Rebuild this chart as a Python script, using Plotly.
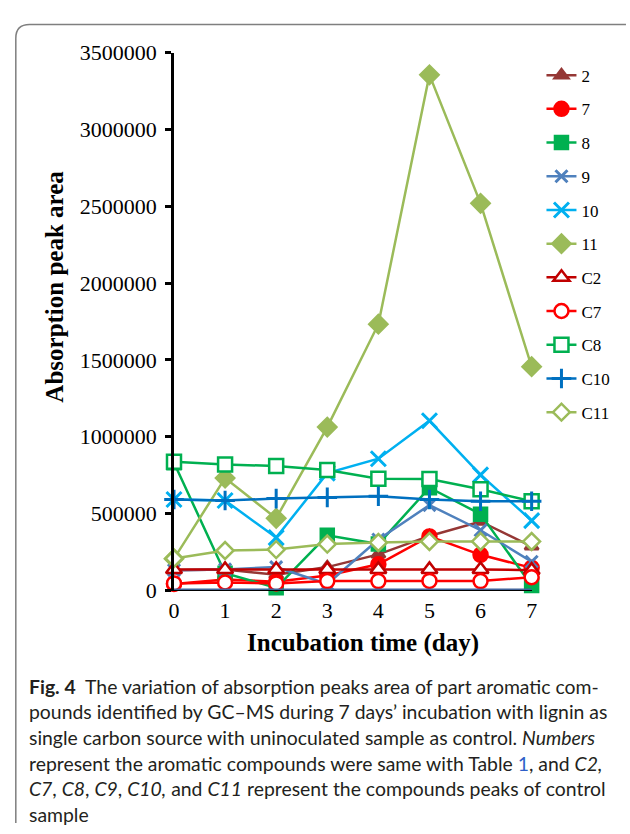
import plotly.graph_objects as go

W, H = 630, 834

# Incubation days and peak areas of the aromatic compounds
days = [0, 1, 2, 3, 4, 5, 6, 7]

s2 = [130000, 135000, 100000, 150000, 233000, 353000, 447000, 285000]
s7 = [40000, 70000, 55000, 95000, 168000, 350000, 230000, 145000]
s8 = [830000, 110000, 15000, 357000, 300000, 667000, 495000, 30000]
s9 = [130000, 135000, 150000, 40000, 330000, 554000, 390000, 185000]
s10 = [590000, 584000, 342000, 762000, 856000, 1103000, 751000, 453000]
s11 = [205000, 730000, 468000, 1062000, 1732000, 3356000, 2519000, 1455000]

# Uninoculated controls
c2 = [135000, 135000, 135000, 135000, 135000, 135000, 135000, 130000]
c7 = [44000, 50000, 44000, 59000, 59000, 60000, 59000, 84000]
c8 = [836000, 819000, 808000, 783000, 726000, 724000, 657000, 579000]
c9 = [0, 0, 0, 0, 0, 0, 0, 0]
c10 = [590000, 584000, 596000, 604000, 611000, 590000, 579000, 579000]
c11 = [206000, 258000, 264000, 300000, 310000, 317000, 317000, 317000]

y_ticks = [0, 500000, 1000000, 1500000, 2000000, 2500000, 3000000, 3500000]
y_tick_text = ["0", "500000", "1000000", "1500000", "2000000", "2500000", "3000000", "3500000"]


def px(x):
    return x / W


def py(y):
    return 1 - y / H


series = [
    ("2", s2, "#953735", "triangle-up", 12, "#953735", True),
    ("7", s7, "#FF0000", "circle", 14, "#FF0000", True),
    ("8", s8, "#00B050", "square", 13, "#00B050", True),
    ("9", s9, "#4F81BD", "x-thin", 12, None, True),
    ("10", s10, "#00B0F0", "x-thin", 15, None, True),
    ("11", s11, "#9BBB59", "diamond", 14, "#9BBB59", True),
    ("C2", c2, "#C00000", "triangle-up", 14, "white", True),
    ("C7", c7, "#FF0000", "circle", 14, "white", True),
    ("C8", c8, "#00B050", "square", 14, "white", True),
    ("C9", c9, "#41639A", "circle", 1, None, False),
    ("C10", c10, "#0070C0", "cross-thin", 14, None, True),
    ("C11", c11, "#9BBB59", "diamond", 13, "white", True),
]

fig = go.Figure()
for name, vals, color, symbol, size, fill, show in series:
    if name == "C9":
        fig.add_trace(go.Scatter(
            x=days, y=vals, name=name, mode="lines",
            line=dict(color=color, width=3.5),
            showlegend=False, cliponaxis=False, hoverinfo="skip",
        ))
        continue
    if fill is None:
        marker = dict(symbol=symbol, size=size, color=color,
                      line=dict(color=color, width=3))
    else:
        marker = dict(symbol=symbol, size=size, color=fill,
                      line=dict(color=color, width=2.5))
    fig.add_trace(go.Scatter(
        x=days, y=vals, name=name, mode="lines+markers",
        line=dict(color=color, width=2.5),
        marker=marker, legendgroup=name, showlegend=show,
        cliponaxis=False,
    ))

serif = "Liberation Serif"

fig.update_layout(
    width=W, height=H,
    margin=dict(l=0, r=0, t=0, b=0),
    paper_bgcolor="white", plot_bgcolor="white",
    font=dict(family=serif, color="black"),
    xaxis=dict(
        domain=[px(172), px(536)], range=[0, 7],
        tickvals=days, ticktext=[str(d) for d in days],
        showgrid=False, zeroline=False, showline=True,
        linecolor="black", linewidth=1, ticks="",
        ticklabelstandoff=0,
        tickfont=dict(family=serif, size=22, color="black"),
    ),
    yaxis=dict(
        domain=[py(596), py(42)], range=[0, 3500000],
        tickvals=y_ticks, ticktext=y_tick_text,
        showgrid=False, zeroline=False, showline=True,
        linecolor="black", linewidth=2.5,
        ticks="outside", ticklen=6, tickwidth=2.5, tickcolor="black",
        ticklabelstandoff=4,
        tickfont=dict(family=serif, size=22, color="black"),
    ),
    legend=dict(
        x=px(546), y=py(47), xanchor="left", yanchor="top",
        font=dict(family=serif, size=17, color="black"),
        itemwidth=30, tracegroupgap=8.6,
        bgcolor="rgba(0,0,0,0)", borderwidth=0,
    ),
    showlegend=True,
)

# Axis titles
fig.add_annotation(
    text="<b>Incubation time (day)</b>", xref="paper", yref="paper",
    x=px(364), y=py(650), xanchor="center", yanchor="middle",
    showarrow=False, font=dict(family=serif, size=25, color="black"),
)
fig.add_annotation(
    text="<b>Absorption peak area</b>", xref="paper", yref="paper",
    x=px(50), y=py(283), xanchor="center", yanchor="middle",
    textangle=-90, showarrow=False,
    font=dict(family=serif, size=25, color="black"),
)

# Figure caption
cap_font = dict(family="Lato", size=19.4, color="#231F20")
caption = [
    "<b>Fig. 4</b>  The variation of absorption peaks area of part aromatic com-",
    "pounds identified by GC–MS during 7 days’ incubation with lignin as",
    "single carbon source with uninoculated sample as control. <i>Numbers</i>",
    "represent the aromatic compounds were same with Table <span style='color:#2E5FC8'>1</span>, and <i>C2,</i>",
    "<i>C7</i>, <i>C8</i>, <i>C9</i>, <i>C10,</i> and <i>C11</i> represent the compounds peaks of control",
    "sample",
]
cap_y = [695, 721.5, 748, 774.5, 801, 827]
for line, yy in zip(caption, cap_y):
    fig.add_annotation(
        text=line, xref="paper", yref="paper",
        x=px(22), y=py(yy), xanchor="left", yanchor="middle",
        showarrow=False, font=cap_font,
    )

# Rounded frame around the figure panel
r = 14
frame = (f"M {px(11)},{py(H + 2)} L {px(11)},{py(13 + r)} "
         f"Q {px(11)},{py(13)} {px(11 + r)},{py(13)} L {px(W + 2)},{py(13)}")
fig.add_shape(type="path", path=frame, xref="paper", yref="paper",
              line=dict(color="#7F7F7F", width=1.5))

fig.write_html("out.html")
